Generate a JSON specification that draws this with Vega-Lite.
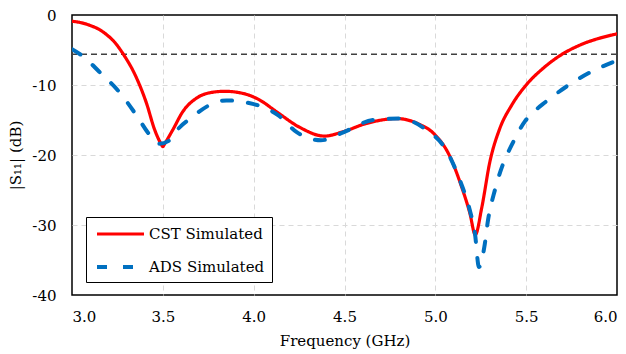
{
  "$schema": "https://vega.github.io/schema/vega-lite/v6.json",
  "autosize": "none",
  "width": 545,
  "height": 280,
  "padding": {"left": 72, "top": 15, "right": 9, "bottom": 59},
  "background": "white",
  "config": {
    "font": "DejaVu Serif",
    "view": {"stroke": "#000000", "strokeWidth": 1.5},
    "axis": {
      "labelFont": "DejaVu Serif",
      "titleFont": "DejaVu Serif",
      "labelFontSize": 15,
      "titleFontSize": 15,
      "titleFontWeight": "normal",
      "labelColor": "#000000",
      "titleColor": "#000000",
      "domain": false,
      "ticks": false,
      "grid": true,
      "gridColor": "#d9d9d9",
      "gridDash": [5, 4],
      "gridWidth": 1
    },
    "legend": {"labelFont": "DejaVu Serif"}
  },
  "datasets": {
    "curves": [
      {"f": 3.00, "s11": -0.9, "series": "CST Simulated"},
      {"f": 3.05, "s11": -1.1, "series": "CST Simulated"},
      {"f": 3.10, "s11": -1.5, "series": "CST Simulated"},
      {"f": 3.145, "s11": -2.0, "series": "CST Simulated"},
      {"f": 3.19, "s11": -2.8, "series": "CST Simulated"},
      {"f": 3.235, "s11": -3.9, "series": "CST Simulated"},
      {"f": 3.28, "s11": -5.5, "series": "CST Simulated"},
      {"f": 3.35, "s11": -8.7, "series": "CST Simulated"},
      {"f": 3.41, "s11": -12.6, "series": "CST Simulated"},
      {"f": 3.455, "s11": -16.4, "series": "CST Simulated"},
      {"f": 3.49, "s11": -18.4, "series": "CST Simulated"},
      {"f": 3.50, "s11": -18.8, "series": "CST Simulated"},
      {"f": 3.51, "s11": -18.4, "series": "CST Simulated"},
      {"f": 3.555, "s11": -16.4, "series": "CST Simulated"},
      {"f": 3.61, "s11": -13.8, "series": "CST Simulated"},
      {"f": 3.684, "s11": -11.9, "series": "CST Simulated"},
      {"f": 3.76, "s11": -11.1, "series": "CST Simulated"},
      {"f": 3.84, "s11": -10.9, "series": "CST Simulated"},
      {"f": 3.94, "s11": -11.2, "series": "CST Simulated"},
      {"f": 4.03, "s11": -12.1, "series": "CST Simulated"},
      {"f": 4.13, "s11": -13.9, "series": "CST Simulated"},
      {"f": 4.25, "s11": -16.0, "series": "CST Simulated"},
      {"f": 4.39, "s11": -17.3, "series": "CST Simulated"},
      {"f": 4.49, "s11": -16.7, "series": "CST Simulated"},
      {"f": 4.62, "s11": -15.5, "series": "CST Simulated"},
      {"f": 4.79, "s11": -14.8, "series": "CST Simulated"},
      {"f": 4.91, "s11": -15.6, "series": "CST Simulated"},
      {"f": 4.99, "s11": -16.9, "series": "CST Simulated"},
      {"f": 5.08, "s11": -20.2, "series": "CST Simulated"},
      {"f": 5.144, "s11": -24.5, "series": "CST Simulated"},
      {"f": 5.19, "s11": -28.3, "series": "CST Simulated"},
      {"f": 5.22, "s11": -31.4, "series": "CST Simulated"},
      {"f": 5.255, "s11": -27.6, "series": "CST Simulated"},
      {"f": 5.30, "s11": -21.0, "series": "CST Simulated"},
      {"f": 5.355, "s11": -16.2, "series": "CST Simulated"},
      {"f": 5.42, "s11": -12.9, "series": "CST Simulated"},
      {"f": 5.50, "s11": -10.0, "series": "CST Simulated"},
      {"f": 5.594, "s11": -7.6, "series": "CST Simulated"},
      {"f": 5.686, "s11": -5.8, "series": "CST Simulated"},
      {"f": 5.796, "s11": -4.3, "series": "CST Simulated"},
      {"f": 5.906, "s11": -3.3, "series": "CST Simulated"},
      {"f": 6.00, "s11": -2.7, "series": "CST Simulated"},
      {"f": 3.00, "s11": -4.9, "series": "ADS Simulated"},
      {"f": 3.06, "s11": -5.9, "series": "ADS Simulated"},
      {"f": 3.15, "s11": -8.1, "series": "ADS Simulated"},
      {"f": 3.26, "s11": -11.0, "series": "ADS Simulated"},
      {"f": 3.354, "s11": -14.3, "series": "ADS Simulated"},
      {"f": 3.427, "s11": -17.1, "series": "ADS Simulated"},
      {"f": 3.48, "s11": -18.4, "series": "ADS Simulated"},
      {"f": 3.537, "s11": -17.9, "series": "ADS Simulated"},
      {"f": 3.58, "s11": -16.4, "series": "ADS Simulated"},
      {"f": 3.666, "s11": -14.5, "series": "ADS Simulated"},
      {"f": 3.70, "s11": -13.8, "series": "ADS Simulated"},
      {"f": 3.79, "s11": -12.5, "series": "ADS Simulated"},
      {"f": 3.85, "s11": -12.2, "series": "ADS Simulated"},
      {"f": 3.96, "s11": -12.5, "series": "ADS Simulated"},
      {"f": 4.09, "s11": -13.6, "series": "ADS Simulated"},
      {"f": 4.134, "s11": -14.3, "series": "ADS Simulated"},
      {"f": 4.235, "s11": -16.7, "series": "ADS Simulated"},
      {"f": 4.37, "s11": -17.9, "series": "ADS Simulated"},
      {"f": 4.49, "s11": -16.8, "series": "ADS Simulated"},
      {"f": 4.657, "s11": -15.0, "series": "ADS Simulated"},
      {"f": 4.80, "s11": -14.8, "series": "ADS Simulated"},
      {"f": 4.95, "s11": -16.4, "series": "ADS Simulated"},
      {"f": 5.06, "s11": -19.3, "series": "ADS Simulated"},
      {"f": 5.135, "s11": -23.6, "series": "ADS Simulated"},
      {"f": 5.19, "s11": -27.9, "series": "ADS Simulated"},
      {"f": 5.218, "s11": -31.2, "series": "ADS Simulated"},
      {"f": 5.24, "s11": -36.0, "series": "ADS Simulated"},
      {"f": 5.27, "s11": -33.1, "series": "ADS Simulated"},
      {"f": 5.29, "s11": -29.3, "series": "ADS Simulated"},
      {"f": 5.328, "s11": -25.0, "series": "ADS Simulated"},
      {"f": 5.374, "s11": -21.2, "series": "ADS Simulated"},
      {"f": 5.42, "s11": -18.6, "series": "ADS Simulated"},
      {"f": 5.493, "s11": -15.2, "series": "ADS Simulated"},
      {"f": 5.539, "s11": -13.9, "series": "ADS Simulated"},
      {"f": 5.603, "s11": -12.5, "series": "ADS Simulated"},
      {"f": 5.658, "s11": -11.4, "series": "ADS Simulated"},
      {"f": 5.74, "s11": -9.9, "series": "ADS Simulated"},
      {"f": 5.796, "s11": -9.0, "series": "ADS Simulated"},
      {"f": 5.87, "s11": -7.95, "series": "ADS Simulated"},
      {"f": 5.925, "s11": -7.3, "series": "ADS Simulated"},
      {"f": 6.00, "s11": -6.5, "series": "ADS Simulated"}
    ],
    "threshold": [{"level": -5.6}]
  },
  "layer": [
    {
      "data": {"name": "threshold"},
      "mark": {"type": "rule", "color": "#404040", "strokeWidth": 1.5, "strokeDash": [6, 4]},
      "encoding": {
        "y": {"field": "level", "type": "quantitative", "scale": {"domain": [-40, 0]}}
      }
    },
    {
      "data": {"name": "curves"},
      "mark": {"type": "line", "interpolate": "monotone", "strokeCap": "round", "clip": true},
      "encoding": {
        "x": {
          "field": "f", "type": "quantitative",
          "scale": {"domain": [3, 6], "nice": false, "zero": false},
          "axis": {
            "values": [3, 3.5, 4, 4.5, 5, 5.5, 6], "format": ".1f", "labelPadding": 14, "titlePadding": 9, "title": "Frequency (GHz)",
            "gridOpacity": {"condition": {"test": "datum.value == 3 || datum.value == 6", "value": 0}, "value": 1}
          }
        },
        "y": {
          "field": "s11", "type": "quantitative",
          "scale": {"domain": [-40, 0], "nice": false},
          "axis": {
            "values": [-40, -30, -20, -10, 0], "labelExpr": "datum.value == 0 ? '0' : '-' + abs(datum.value)", "labelPadding": 16, "titlePadding": 8, "title": "|S₁₁| (dB)",
            "gridOpacity": {"condition": {"test": "datum.value == 0 || datum.value == -40", "value": 0}, "value": 1}
          }
        },
        "color": {
          "field": "series", "type": "nominal",
          "scale": {"domain": ["CST Simulated", "ADS Simulated"], "range": ["#ff0000", "#0070c0"]},
          "legend": {
            "orient": "none", "legendX": 14, "legendY": 202, "title": null,
            "symbolType": "M-0.75,0H5.125", "symbolSize": 256, "symbolStrokeWidth": 3.5,
            "symbolFillColor": "transparent",
            "labelFontSize": 15, "labelColor": "#000000", "labelOffset": 36,
            "strokeColor": "#000000", "padding": 7, "rowPadding": 15, "fillColor": "white"
          }
        },
        "strokeDash": {
          "field": "series", "type": "nominal",
          "scale": {"domain": ["CST Simulated", "ADS Simulated"], "range": [[1, 0], [10, 16]]},
          "legend": null
        },
        "strokeWidth": {
          "field": "series", "type": "nominal",
          "scale": {"domain": ["CST Simulated", "ADS Simulated"], "range": [3.2, 4]},
          "legend": null
        },
        "order": {"field": "f", "type": "quantitative"}
      }
    }
  ]
}
